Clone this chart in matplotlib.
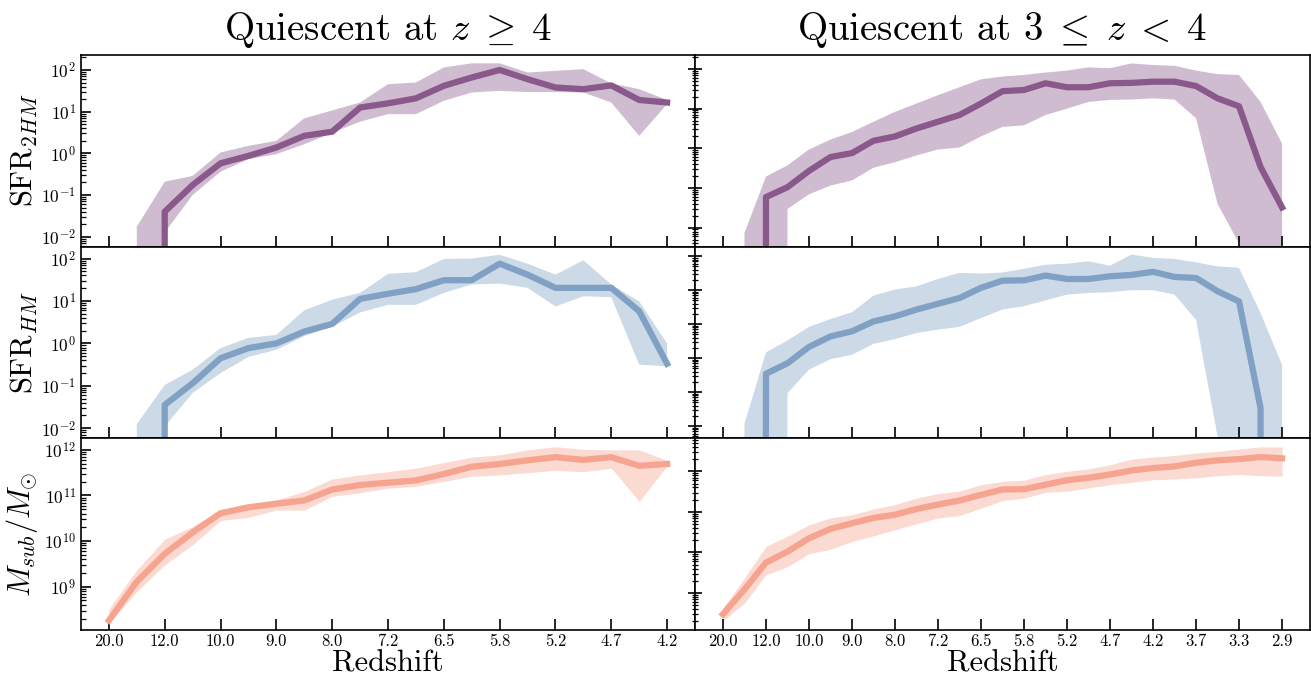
import numpy as np
import matplotlib
matplotlib.use("Agg")
import matplotlib.pyplot as plt

plt.rcParams['font.family'] = 'serif'
plt.rcParams['font.serif'] = ['cmr10', 'DejaVu Serif']
plt.rcParams['mathtext.fontset'] = 'cm'
plt.rcParams['axes.formatter.use_mathtext'] = True
plt.rcParams['axes.unicode_minus'] = False

NINF = float('-inf')

# ---------------- data (log10 values; -inf means zero) ----------------
z_labels_left = ['20.0', '12.0', '10.0', '9.0', '8.0', '7.2', '6.5', '5.8', '5.2', '4.7', '4.2']
z_labels_right = z_labels_left + ['3.7', '3.3', '2.9']

# Left column: quiescent at z >= 4 (snapshots 0..20)
L_sfr2_med = [NINF, NINF, -1.40, -0.76, -0.24, -0.06, 0.14, 0.42, 0.52, 1.10, 1.20, 1.32, 1.62, 1.82, 2.00,
              1.78, 1.58, 1.54, 1.63, 1.28, 1.22]
L_sfr2_hi = [NINF, -1.76, -0.68, -0.54, 0.02, 0.18, 0.30, 0.84, 1.03, 1.22, 1.66, 1.70, 2.06, 2.16, 2.16,
             1.94, 1.98, 2.02, 1.68, 1.54, 1.28]
L_sfr2_lo = [NINF, NINF, -1.90, -1.00, -0.44, -0.14, -0.02, 0.22, 0.49, 0.76, 0.94, 0.94, 1.26, 1.46, 1.50,
             1.47, 1.47, 1.46, 1.22, 0.42, 1.18]

L_sfr1_med = [NINF, NINF, -1.45, -0.94, -0.35, -0.11, 0.00, 0.28, 0.46, 1.05, 1.17, 1.28, 1.49, 1.49, 1.88,
              1.62, 1.31, 1.31, 1.31, 0.76, -0.48]
L_sfr1_hi = [NINF, -1.90, -0.98, -0.62, -0.11, 0.13, 0.20, 0.78, 1.03, 1.19, 1.64, 1.68, 1.99, 2.00, 2.09,
             1.88, 1.62, 1.96, 1.39, 0.99, 0.00]
L_sfr1_lo = [NINF, NINF, -1.96, -1.17, -0.70, -0.32, -0.15, 0.17, 0.39, 0.73, 0.91, 0.91, 1.19, 1.39, 1.41,
             1.31, 0.87, 1.11, 1.09, -0.50, -0.54]

L_mass_med = [8.26, 9.11, 9.72, 10.19, 10.61, 10.74, 10.82, 10.89, 11.13, 11.23, 11.28, 11.33, 11.47, 11.63,
              11.69, 11.77, 11.84, 11.78, 11.84, 11.65, 11.69]
L_mass_hi = [8.51, 9.37, 10.04, 10.32, 10.68, 10.79, 10.90, 11.09, 11.36, 11.45, 11.52, 11.60, 11.72, 11.84,
             11.89, 12.00, 12.07, 12.01, 12.00, 12.00, 11.77]
L_mass_lo = [8.20, 8.89, 9.48, 9.92, 10.45, 10.52, 10.68, 10.68, 10.98, 11.06, 11.16, 11.20, 11.31, 11.42,
             11.45, 11.50, 11.55, 11.52, 11.60, 10.87, 11.65]

# Right column: quiescent at 3 <= z < 4 (snapshots 0..26)
R_sfr2_med = [NINF, NINF, -1.23, -0.98, -0.57, -0.22, -0.12, 0.19, 0.30, 0.50, 0.67, 0.84, 1.13, 1.44,
              1.47, 1.64, 1.54, 1.54, 1.64, 1.65, 1.68, 1.68, 1.57, 1.26, 1.06, -0.47, -1.49]
R_sfr2_hi = [NINF, -2.14, -0.71, -0.43, -0.03, 0.22, 0.41, 0.67, 0.92, 1.13, 1.34, 1.54, 1.74, 1.81,
             1.85, 1.91, 1.96, 2.04, 2.02, 2.14, 2.10, 2.08, 1.96, 1.87, 1.85, 1.17, 0.12]
R_sfr2_lo = [NINF, NINF, NINF, -1.53, -1.16, -0.94, -0.81, -0.49, -0.35, -0.18, -0.03, 0.02, 0.30, 0.54,
             0.58, 0.84, 1.00, 1.17, 1.22, 1.23, 1.26, 1.23, 0.76, -1.40, -2.40, NINF, NINF]

R_sfr1_med = [NINF, NINF, -1.46, -1.15, -0.67, -0.36, -0.21, 0.08, 0.23, 0.43, 0.60, 0.77, 1.07, 1.28,
              1.29, 1.43, 1.33, 1.33, 1.41, 1.45, 1.54, 1.39, 1.36, 0.97, 0.67, -2.47, NINF]
R_sfr1_hi = [NINF, -2.94, -0.83, -0.48, -0.08, 0.15, 0.35, 0.84, 1.02, 1.11, 1.33, 1.51, 1.49, 1.52,
             1.63, 1.75, 1.78, 1.85, 1.72, 2.05, 1.95, 1.92, 1.82, 1.70, 1.66, 0.33, -1.20]
R_sfr1_lo = [NINF, NINF, NINF, -2.03, -1.34, -1.03, -0.90, -0.58, -0.44, -0.26, -0.16, -0.08, 0.18, 0.43,
             0.53, 0.70, 0.87, 0.92, 0.94, 1.00, 1.00, 0.87, 0.13, -3.30, NINF, NINF, NINF]

R_mass_med = [8.48, 9.09, 9.75, 10.02, 10.35, 10.58, 10.72, 10.85, 10.93, 11.07, 11.18, 11.28, 11.42, 11.55,
              11.56, 11.67, 11.78, 11.84, 11.92, 12.02, 12.08, 12.12, 12.21, 12.27, 12.30, 12.35, 12.32]
R_mass_hi = [8.63, 9.37, 10.15, 10.40, 10.68, 10.85, 10.93, 11.07, 11.18, 11.34, 11.45, 11.51, 11.67, 11.75,
             11.78, 11.92, 12.00, 12.06, 12.16, 12.30, 12.35, 12.39, 12.45, 12.49, 12.55, 12.60, 12.60]
R_mass_lo = [8.32, 8.75, 9.45, 9.65, 9.97, 10.08, 10.27, 10.41, 10.56, 10.71, 10.85, 10.91, 11.09, 11.28,
             11.34, 11.48, 11.51, 11.59, 11.67, 11.73, 11.79, 11.81, 11.84, 11.89, 11.92, 11.89, 11.88]

# ---------------- styling ----------------
c_purple = (0.54, 0.35, 0.55)
c_blue = (0.50, 0.63, 0.77)
c_salmon = (0.965, 0.645, 0.56)

fig = plt.figure(figsize=(13.11, 6.75), dpi=100)

W, H = 1311.0, 675.0
col_x = [(81, 695), (695, 1310)]
row_y = [(54.7, 246.7), (246.7, 438.0), (438.0, 630.0)]

columns = [
    dict(labels=z_labels_left,
         rows=[(L_sfr2_med, L_sfr2_lo, L_sfr2_hi, c_purple, (-2.24, 2.367)),
               (L_sfr1_med, L_sfr1_lo, L_sfr1_hi, c_blue, (-2.23, 2.28)),
               (L_mass_med, L_mass_lo, L_mass_hi, c_salmon, (8.05, 12.26))]),
    dict(labels=z_labels_right,
         rows=[(R_sfr2_med, R_sfr2_lo, R_sfr2_hi, c_purple, (-2.48, 2.36)),
               (R_sfr1_med, R_sfr1_lo, R_sfr1_hi, c_blue, (-3.35, 2.28)),
               (R_mass_med, R_mass_lo, R_mass_hi, c_salmon, (8.09, 12.82))]),
]

ylabels = [r'SFR$_{2HM}$', r'SFR$_{HM}$', r'$M_{sub}/M_{\odot}$']
titles = [r'Quiescent at $z \;\geq\; 4$', r'Quiescent at $3 \;\leq\; z \;<\; 4$']

for ci, col in enumerate(columns):
    x0, x1 = col_x[ci]
    n = len(col['rows'][0][0])
    idx = np.arange(n)
    for ri, (med, lo, hi, color, ylim) in enumerate(col['rows']):
        y0, y1 = row_y[ri]
        ax = fig.add_axes([x0 / W, 1 - y1 / H, (x1 - x0) / W, (y1 - y0) / H])
        ax.set_yscale('log')
        ax.fill_between(idx, np.power(10.0, lo), np.power(10.0, hi), color=color, alpha=0.4, lw=0)
        ax.plot(idx, np.power(10.0, med), color=color, lw=4.5)
        ax.set_xlim(-0.05 * (n - 1), (n - 1) * 1.05)
        ax.set_ylim(10 ** ylim[0], 10 ** ylim[1])
        ticks = np.arange(0, n, 2)
        ax.set_xticks(ticks)
        if ri == 2:
            ax.set_xticklabels(col['labels'], fontsize=12)
        else:
            ax.set_xticklabels([])
        ax.tick_params(axis='x', which='major', direction='in', length=8, width=1.2, top=False, bottom=True,
                       pad=2.5)
        ax.tick_params(axis='x', which='minor', bottom=False, top=False)
        if ci == 0:
            ax.tick_params(axis='y', which='major', direction='in', length=7, width=1.2, labelsize=12.5)
            ax.tick_params(axis='y', which='minor', direction='in', length=3.5, width=0.9)
            ax.set_ylabel(ylabels[ri], fontsize=22)
            ax.yaxis.set_label_coords(-0.066, 0.5)
        else:
            ax.tick_params(axis='y', which='major', direction='inout', length=10, width=1.2, labelleft=False)
            ax.tick_params(axis='y', which='minor', direction='inout', length=5, width=0.9)
        for s in ax.spines.values():
            s.set_linewidth(1.2)
    xc = (x0 + x1) / 2 / W
    fig.text(xc, 1 - 40 / H, titles[ci], fontsize=28, ha='center', va='baseline')
    fig.text(xc, 1 - 671 / H, 'Redshift', fontsize=22, ha='center', va='baseline')

fig.savefig('out.png', dpi=100)
